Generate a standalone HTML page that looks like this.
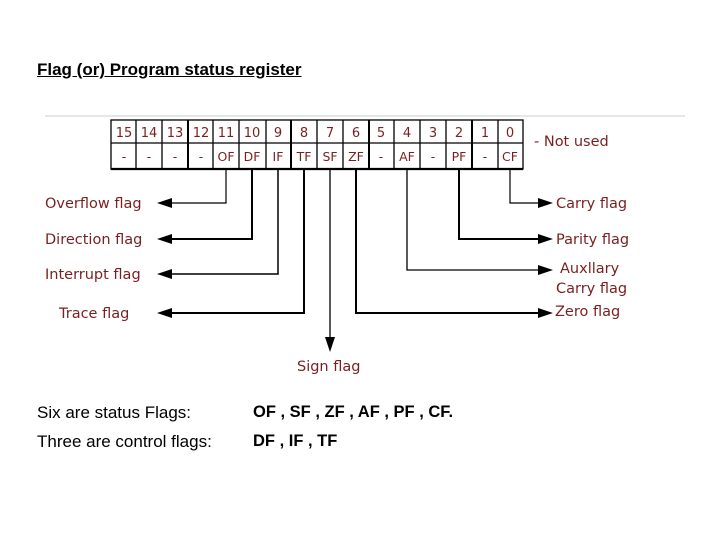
<!DOCTYPE html>
<html><head><meta charset="utf-8"><style>
body{margin:0;background:#fff;width:720px;height:540px;overflow:hidden;position:relative;font-family:"Liberation Sans",sans-serif}
.t{position:absolute;color:#000}
</style></head><body>
<div class="t" style="left:37px;top:60px;font-size:17px;font-weight:bold;text-decoration:underline">Flag (or) Program status register</div>
<svg width="720" height="540" style="position:absolute;left:0;top:0" font-family="DejaVu Sans, sans-serif">
<line x1="45" y1="116" x2="685" y2="116" stroke="#e6e6e6" stroke-width="2"/>
<g stroke="#000" stroke-width="1.3" fill="none">
<rect x="111" y="120" width="412" height="49"/>
<line x1="111" y1="143" x2="523" y2="143"/>
<line x1="136" y1="120" x2="136" y2="169"/><line x1="162" y1="120" x2="162" y2="169"/>
<line x1="188" y1="120" x2="188" y2="169" stroke-width="2"/><line x1="213" y1="120" x2="213" y2="169"/>
<line x1="239" y1="120" x2="239" y2="169"/><line x1="266" y1="120" x2="266" y2="169"/>
<line x1="291" y1="120" x2="291" y2="169" stroke-width="2"/><line x1="317" y1="120" x2="317" y2="169"/>
<line x1="343" y1="120" x2="343" y2="169"/><line x1="369" y1="120" x2="369" y2="169" stroke-width="2"/>
<line x1="394" y1="120" x2="394" y2="169"/><line x1="420" y1="120" x2="420" y2="169"/>
<line x1="446" y1="120" x2="446" y2="169"/><line x1="472" y1="120" x2="472" y2="169" stroke-width="2"/>
<line x1="498" y1="120" x2="498" y2="169"/>
<line x1="111" y1="169" x2="523" y2="169" stroke-width="2.2"/>
</g>
<g fill="#7a1f1f" font-size="13" text-anchor="middle">
<text x="124" y="137">15</text><text x="149" y="137">14</text><text x="175" y="137">13</text><text x="201" y="137">12</text>
<text x="226" y="137">11</text><text x="252" y="137">10</text><text x="278" y="137">9</text><text x="304" y="137">8</text>
<text x="330" y="137">7</text><text x="356" y="137">6</text><text x="381" y="137">5</text><text x="407" y="137">4</text>
<text x="433" y="137">3</text><text x="459" y="137">2</text><text x="485" y="137">1</text><text x="510" y="137">0</text>
<g font-size="12.5">
<text x="124" y="161">-</text><text x="149" y="161">-</text><text x="175" y="161">-</text><text x="201" y="161">-</text>
<text x="226" y="161">OF</text><text x="252" y="161">DF</text><text x="278" y="161">IF</text><text x="304" y="161">TF</text>
<text x="330" y="161">SF</text><text x="356" y="161">ZF</text><text x="381" y="161">-</text><text x="407" y="161">AF</text>
<text x="433" y="161">-</text><text x="459" y="161">PF</text><text x="485" y="161">-</text><text x="510" y="161">CF</text>
</g>
</g>
<g stroke="#000" fill="none">
<polyline points="226,169 226,203 170,203" stroke-width="1.2"/>
<polyline points="252,169 252,239 170,239" stroke-width="2"/>
<polyline points="278,169 278,274 170,274" stroke-width="1.5"/>
<polyline points="304,169 304,313 170,313" stroke-width="2"/>
<line x1="330" y1="169" x2="330" y2="340" stroke-width="1.3"/>
<polyline points="356,169 356,313 540,313" stroke-width="2"/>
<polyline points="407,169 407,270 540,270" stroke-width="1.3"/>
<polyline points="459,169 459,239 540,239" stroke-width="2"/>
<polyline points="510,169 510,203 540,203" stroke-width="1.2"/>
</g>
<g fill="#000">
<polygon points="157,203 172,198 172,208"/>
<polygon points="157,239 172,234 172,244"/>
<polygon points="157,274 172,269 172,279"/>
<polygon points="157,313 172,308 172,318"/>
<polygon points="330,352 325,337 335,337"/>
<polygon points="553,203 538,198 538,208"/>
<polygon points="553,239 538,234 538,244"/>
<polygon points="553,270 538,265 538,275"/>
<polygon points="553,313 538,308 538,318"/>
</g>
<g fill="#7a1f1f" font-size="14.5">
<text x="45" y="208">Overflow flag</text>
<text x="45" y="244">Direction flag</text>
<text x="45" y="279">Interrupt flag</text>
<text x="59" y="318">Trace flag</text>
<text x="297" y="371">Sign flag</text>
<text x="534" y="146">- Not used</text>
<text x="556" y="208">Carry flag</text>
<text x="556" y="244">Parity flag</text>
<text x="560" y="273">Auxllary</text>
<text x="556" y="293">Carry flag</text>
<text x="555" y="316">Zero flag</text>
</g>
</svg>
<div class="t" style="left:37px;top:403px;font-size:17px">Six are status Flags:</div>
<div class="t" style="left:37px;top:432px;font-size:17px">Three are control flags:</div>
<div class="t" style="left:253px;top:403px;font-size:16.5px;font-weight:bold">OF , SF , ZF , AF , PF , CF.</div>
<div class="t" style="left:253px;top:432px;font-size:16.5px;font-weight:bold">DF , IF , TF</div>
</body></html>
